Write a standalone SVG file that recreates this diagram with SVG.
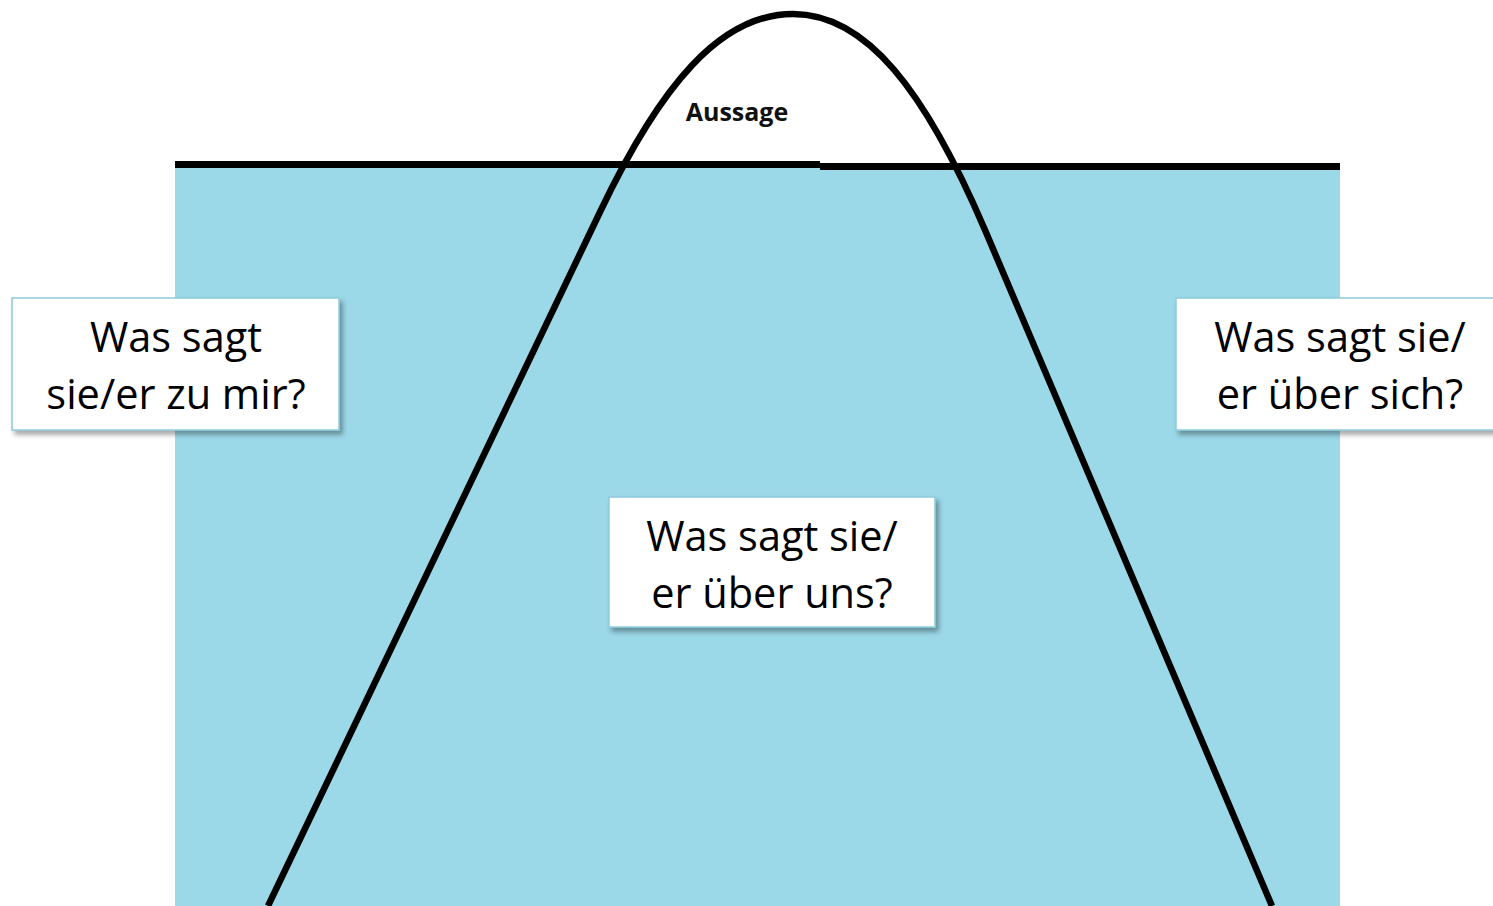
<svg xmlns="http://www.w3.org/2000/svg" width="1493" height="906" viewBox="0 0 1493 906">
<defs>
<style>
.box{fill:#ffffff;stroke:#8ccbdd;stroke-width:1.5}
.t{font-family:"Open Sans","Liberation Sans",sans-serif;font-size:41.5px;fill:#000;text-anchor:middle}
.lbl{font-family:"Open Sans","Liberation Sans",sans-serif;font-size:25px;font-weight:bold;fill:#111;text-anchor:middle}
</style>
<filter id="sh" x="-10%" y="-10%" width="130%" height="140%">
<feDropShadow dx="3" dy="4" stdDeviation="2.5" flood-color="#000" flood-opacity="0.35"/>
</filter>
</defs>
<rect x="0" y="0" width="1493" height="906" fill="#ffffff"/>
<rect id="water" x="175" y="167" width="1165" height="739" fill="#9bd8e8"/>
<g id="connectors" fill="none" stroke="#000">
<path d="M175,164.5 H820" stroke-width="7"/>
<path d="M820,166.5 H1340" stroke-width="7"/>
<path d="M268,906 L600,212 C660,86 720,14 793,14 C866,14 925,90 985,230 L1272,906" stroke-width="6.5" stroke-linejoin="round"/>
</g>
<g id="aussage"><text class="lbl" x="737" y="121">Aussage</text></g>
<g id="node-left">
<rect class="box" x="12" y="298" width="327" height="132" filter="url(#sh)"/>
<text class="t" x="176" y="352">Was sagt</text>
<text class="t" x="176" y="409">sie/er zu mir?</text>
</g>
<g id="node-right">
<rect class="box" x="1176" y="298" width="330" height="132" filter="url(#sh)"/>
<text class="t" x="1340" y="352">Was sagt sie/</text>
<text class="t" x="1340" y="409">er über sich?</text>
</g>
<g id="node-middle">
<rect class="box" x="609" y="497" width="326" height="130" filter="url(#sh)"/>
<text class="t" x="772" y="551">Was sagt sie/</text>
<text class="t" x="772" y="608">er über uns?</text>
</g>
</svg>
